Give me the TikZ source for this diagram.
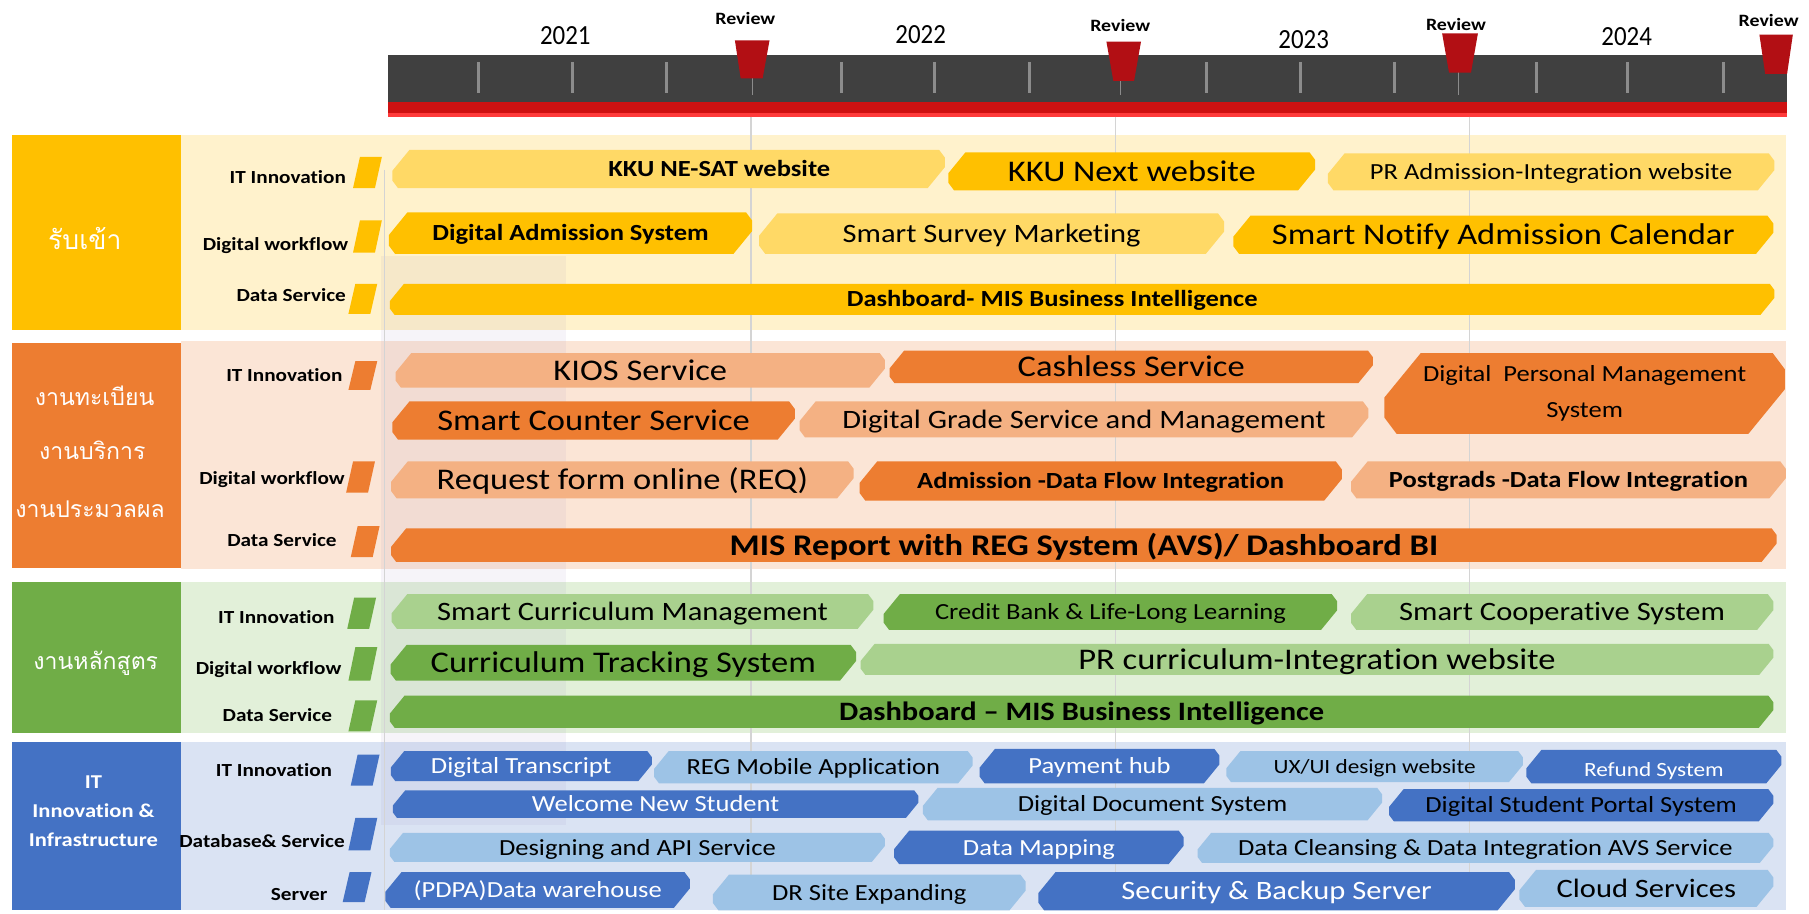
\documentclass[tikz,border=0pt]{standalone}
\usepackage{fontspec}
\setmainfont{Carlito}[FakeStretch=1.15, Ligatures=NoCommon]
\newfontfamily\yearfont{Carlito}[FakeStretch=0.9]
\newfontfamily\thaifont[Script=Thai]{Loma}

\definecolor{yelDark}{HTML}{FFC000}
\definecolor{yelLite}{HTML}{FFD966}
\definecolor{yelBg}{HTML}{FFF2CC}
\definecolor{orgDark}{HTML}{ED7D31}
\definecolor{orgLite}{HTML}{F4B183}
\definecolor{orgBg}{HTML}{FBE5D6}
\definecolor{grnDark}{HTML}{70AD47}
\definecolor{grnLite}{HTML}{A9D18E}
\definecolor{grnBg}{HTML}{E2F0D9}
\definecolor{bluDark}{HTML}{4472C4}
\definecolor{bluLite}{HTML}{9DC3E6}
\definecolor{bluBg}{HTML}{DAE3F3}
\definecolor{barGray}{HTML}{404040}
\definecolor{barRed}{HTML}{CE1111}
\definecolor{barRedLite}{HTML}{FF3B3B}
\definecolor{flagRed}{HTML}{B20F14}
\definecolor{tickGray}{HTML}{8C8C8C}
\definecolor{gridGray}{HTML}{D4D4D4}
\definecolor{bandViolet}{HTML}{6A50A8}

% task bar: name, left, right, top, bottom, fill, font size, style, text
\newcommand{\taskbar}[9]{%
  \pgfmathsetmacro{\bh}{#5-#4}%
  \fill[#6] ({#2+0.45*\bh},#4) -- ({#3-0.15*\bh},#4) -- (#3,{#4+0.2*\bh}) -- (#3,{#4+0.45*\bh})
    -- ({#3-0.45*\bh},#5) -- ({#2+0.15*\bh},#5) -- (#2,{#5-0.2*\bh}) -- (#2,{#4+0.55*\bh}) -- cycle;
  \node[inner sep=0pt, font=\fontsize{#7}{#7}\selectfont, text height={0.66*#7pt}, text depth=0pt, #8]
    (#1) at ({(#2+#3)/2},{(#4+#5)/2}) {#9};%
}
% slanted tab after a row label: left, top, bottom, colour
\newcommand{\rowtab}[4]{%
  \fill[#4] (#1,#3) -- ({#1+19},#3) -- ({#1+25},#2) -- ({#1+6},#2) -- cycle;}

\tikzset{
  rowlbl/.style={anchor=east, inner sep=0pt, font=\fontsize{16}{16}\selectfont\bfseries,
    text height=10.6pt, text depth=0pt},
  thailbl/.style={inner sep=0pt, text=white, font=\thaifont\fontsize{#1}{#1}\selectfont},
  infralbl/.style={inner sep=0pt, text=white, font=\fontsize{17}{17}\selectfont\bfseries,
    text height=11.2pt, text depth=0pt},
  revlbl/.style={inner sep=0pt, font=\fontsize{15}{15}\selectfont\bfseries},
  yearlbl/.style={inner sep=0pt, font=\yearfont\fontsize{24}{24}\selectfont}
}

\begin{document}
\begin{tikzpicture}[x=1pt, y=-1pt]
  \useasboundingbox (0,0) rectangle (1568,791.4);
  \fill[white] (0,0) rectangle (1568,791.4);

  % timeline
  \fill[barGray] (336,48) rectangle (1549,88);
  \fill[barRed] (336,88) rectangle (1549,98);
  \fill[barRedLite] (336,98) rectangle (1549,101);
  \foreach \tx in {415,496,578,729,810,892,1046,1127,1209,1332,1411,1494}
    \draw[tickGray, line width=2.5pt] (\tx,54) -- (\tx,81);
  \foreach \tx in {652,971,1264}
    \draw[tickGray, line width=0.8pt] (\tx,52) -- (\tx,82);
  \foreach \tl/\tr/\bl/\br/\mt/\mb in {637/667/642/661/35/68, 959/989/965/983/36/70,
      1250/1281/1256/1275/29/63, 1525/1554/1530/1549/30/64}
    \fill[flagRed] (\tl,\mt) -- (\tr,\mt) -- (\br,\mb) -- (\bl,\mb) -- cycle;
  \foreach \i/\rx/\ry in {1/646/16, 2/971/22.5, 3/1262/21, 4/1533/18}
    \node[revlbl] (rev\i) at (\rx,\ry) {Review};
  \node[yearlbl] (y2021) at (490,31) {2021};
  \node[yearlbl] (y2022) at (798,30) {2022};
  \node[yearlbl] (y2023) at (1130,34) {2023};
  \node[yearlbl] (y2024) at (1410,32) {2024};

  % panels
  \fill[yelBg] (157,117) rectangle (1548,286);
  \fill[yelDark] (10,117) rectangle (157,286);
  \fill[orgBg] (157,296) rectangle (1548,493);
  \fill[orgDark] (10,297) rectangle (157,492);
  \fill[grnBg] (157,504.5) rectangle (1548,635.5);
  \fill[grnDark] (10,504.5) rectangle (157,635.5);
  \fill[bluBg] (157,643) rectangle (1548,789);
  \fill[bluDark] (10,643) rectangle (157,789);

  \fill[bandViolet, opacity=0.06] (330,222) rectangle (491,715);
  \draw[gridGray, line width=1pt] (333,147) -- (333,789);
  \foreach \gx in {651,967,1274}
    \draw[gridGray, line width=1pt] (\gx,101) -- (\gx,789);

  % categories
  \node[thailbl=23] (catAdm) at (73.5,207) {รับเข้า};
  \node[thailbl=20] (catReg1) at (82,343) {งานทะเบียน};
  \node[thailbl=20] (catReg2) at (80,390) {งานบริการ};
  \node[thailbl=20] (catReg3) at (78,441) {งานประมวลผล};
  \node[thailbl=20] (catCur) at (83,575) {งานหลักสูตร};
  \node[infralbl] (catInfra1) at (81,678) {IT};
  \node[infralbl] (catInfra2) at (81,703) {Innovation \&};
  \node[infralbl] (catInfra3) at (81,728) {Infrastructure};

  % row labels
  \node[rowlbl] (admIT) at (300,154) {IT Innovation};
  \node[rowlbl] (admWF) at (302,212) {Digital workflow};
  \node[rowlbl] (admDS) at (300,256) {Data Service};
  \rowtab{306}{136}{163}{yelDark}
  \rowtab{306}{191}{219}{yelDark}
  \rowtab{302}{246}{272}{yelDark}
  \node[rowlbl] (regIT) at (297,325) {IT Innovation};
  \node[rowlbl] (regWF) at (299,415) {Digital workflow};
  \node[rowlbl] (regDS) at (292,468) {Data Service};
  \rowtab{302}{313}{338}{orgDark}
  \rowtab{300}{400}{427}{orgDark}
  \rowtab{304}{456}{483}{orgDark}
  \node[rowlbl] (curIT) at (290,535) {IT Innovation};
  \node[rowlbl] (curWF) at (296,579) {Digital workflow};
  \node[rowlbl] (curDS) at (288,620) {Data Service};
  \rowtab{301}{518}{545}{grnDark}
  \rowtab{302}{561}{590}{grnDark}
  \rowtab{302}{607}{634}{grnDark}
  \node[rowlbl] (infIT) at (288,668) {IT Innovation};
  \node[rowlbl] (infDB) at (299,729) {Database\& Service};
  \node[rowlbl] (infSV) at (284,775) {Server};
  \rowtab{304}{654}{681}{bluDark}
  \rowtab{302}{709}{737}{bluDark}
  \rowtab{297}{756}{782}{bluDark}

  % admission
  \taskbar{nesat}{340}{819}{130}{163}{yelLite}{20}{xshift=44pt}{\bfseries KKU NE-SAT website}
  \taskbar{kkunext}{822}{1140}{132}{165}{yelDark}{26}{}{KKU Next website}
  \taskbar{pradm}{1151}{1538}{133}{165}{yelLite}{20}{}{PR Admission-Integration website}
  \taskbar{digadm}{337}{652}{184}{220}{yelDark}{20}{}{\bfseries Digital Admission System}
  \taskbar{survey}{658}{1061}{185}{220}{yelLite}{23}{}{Smart Survey Marketing}
  \taskbar{notify}{1069}{1537}{187}{220}{yelDark}{26}{}{Smart Notify Admission Calendar}
  \taskbar{dashadm}{338}{1538}{246}{273}{yelDark}{20}{xshift=-26pt}{\bfseries Dashboard- MIS Business Intelligence}

  % registration, service, processing
  \taskbar{kios}{343}{767}{306}{336}{orgLite}{26}{}{KIOS Service}
  \taskbar{cashless}{771}{1190}{304}{332}{orgDark}{26}{}{Cashless Service}
  \taskbar{dpms}{1200}{1547}{306}{376}{orgDark}{20}{align=center, font=\fontsize{20}{31}\selectfont,
    text height=, text depth=}{Digital\ \ Personal Management\\System}
  \taskbar{counter}{340}{689}{348}{381}{orgDark}{26}{}{Smart Counter Service}
  \taskbar{grade}{693}{1186}{348}{379}{orgLite}{23}{}{Digital Grade Service and Management}
  \taskbar{reqform}{339}{740}{400}{432}{orgLite}{26}{}{Request form online (REQ)}
  \taskbar{admflow}{745}{1163}{400}{434}{orgDark}{20}{}{\bfseries Admission -Data Flow Integration}
  \taskbar{pgflow}{1171}{1548}{400}{432}{orgLite}{20}{}{\bfseries Postgrads -Data Flow Integration}
  \taskbar{misreg}{339}{1540}{458}{487}{orgDark}{26}{}{\bfseries MIS Report with REG System (AVS)/ Dashboard BI}

  % curriculum
  \taskbar{curmgmt}{339.5}{757}{515}{545}{grnLite}{23}{}{Smart Curriculum Management}
  \taskbar{credit}{766}{1159}{515}{546}{grnDark}{20}{}{Credit Bank \& Life-Long Learning}
  \taskbar{coop}{1171}{1537}{515}{546}{grnLite}{23}{}{Smart Cooperative System}
  \taskbar{tracking}{338.5}{742}{559}{590}{grnDark}{26}{}{Curriculum Tracking System}
  \taskbar{prcur}{746}{1537}{558}{585}{grnLite}{26}{}{PR curriculum-Integration website}
  \taskbar{dashcur}{338}{1537}{603}{631}{grnDark}{23}{}{\bfseries Dashboard -- MIS Business Intelligence}

  % IT innovation and infrastructure
  \taskbar{transcript}{338.7}{565}{651}{677}{bluDark}{20}{text=white}{Digital Transcript}
  \taskbar{regmobile}{567}{843}{651}{679}{bluLite}{20}{}{REG Mobile Application}
  \taskbar{payhub}{849}{1057}{649}{679}{bluDark}{20}{text=white}{Payment hub}
  \taskbar{uxui}{1063}{1320}{651}{678}{bluLite}{17.5}{}{UX/UI design website}
  \taskbar{refund}{1323}{1544}{650}{679}{bluDark}{17.5}{text=white, yshift=-2.5pt}{Refund System}
  \taskbar{welcome}{340.5}{796}{685}{709}{bluDark}{20}{text=white}{Welcome New Student}
  \taskbar{docsys}{800}{1198}{683}{711}{bluLite}{20}{}{Digital Document System}
  \taskbar{portal}{1204}{1537}{684}{712}{bluDark}{20}{}{Digital Student Portal System}
  \taskbar{api}{338}{767}{722}{747}{bluLite}{20}{}{Designing and API Service}
  \taskbar{mapping}{775}{1026}{720}{749}{bluDark}{20}{text=white}{Data Mapping}
  \taskbar{cleansing}{1038}{1537}{722}{748}{bluLite}{20}{}{Data Cleansing \& Data Integration AVS Service}
  \taskbar{pdpa}{334}{598}{756}{787}{bluDark}{20}{text=white}{(PDPA)Data warehouse}
  \taskbar{drsite}{618}{889}{758}{789}{bluLite}{20}{}{DR Site Expanding}
  \taskbar{security}{900}{1313}{756}{789}{bluDark}{23}{text=white}{Security \& Backup Server}
  \taskbar{cloud}{1317}{1537}{754}{786}{bluLite}{23}{}{Cloud Services}
\end{tikzpicture}
\end{document}
